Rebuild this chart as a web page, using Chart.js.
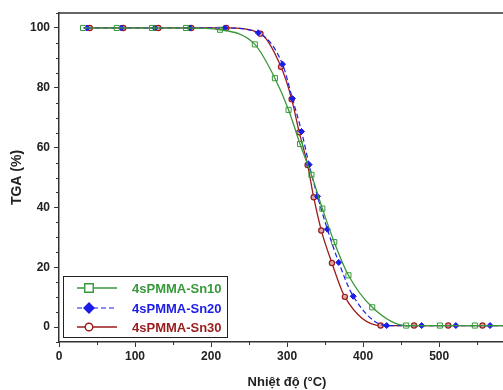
<!DOCTYPE html>
<html>
<head>
<meta charset="utf-8">
<script src="https://cdn.jsdelivr.net/npm/chart.js@4"></script>
<style>
  html, body { margin: 0; padding: 0; background: #fff; overflow: hidden; }
  #wrap { width: 503px; height: 390px; }
</style>
</head>
<body>
<div id="wrap"><canvas id="tga"></canvas></div>
<script>
// --- Data ---
const sn10Temp = [31.6, 76, 122.4, 167, 211.8, 257.6, 284, 302, 317, 332, 346.4, 362, 380.7, 412, 456.6, 501, 547, 584];
const sn10Mass = [100, 100, 100, 100, 99.4, 94.5, 83.2, 72.6, 61.2, 50.9, 39.6, 28.4, 17.3, 6.6, 0.5, 0.5, 0.5, 0.5];

const sn20Temp = [36.9, 82, 126, 172, 218, 262, 294, 307, 319, 329, 340, 353, 368, 387, 431, 477, 522, 567, 584];
const sn20Mass = [100, 100, 100, 100, 100, 98.4, 87.9, 76.4, 65.4, 54.3, 43.7, 32.7, 21.6, 10.3, 0.5, 0.5, 0.5, 0.5, 0.5];

const sn30Temp = [40.5, 84.6, 130.7, 174, 220, 265, 292, 306, 316, 327, 335, 345, 359, 376, 423, 467, 512, 557, 584];
const sn30Mass = [100, 100, 100, 100, 100, 98.1, 87, 76.2, 65.1, 54.2, 43.4, 32.3, 21.4, 10.1, 0.5, 0.5, 0.5, 0.5, 0.5];

const seriesNames = ["4sPMMA-Sn10", "4sPMMA-Sn20", "4sPMMA-Sn30"];
const xTickValues = [0, 100, 200, 300, 400, 500];
const yTickValues = [0, 20, 40, 60, 80, 100];
const xTitle = "Nhiệt độ (°C)";
const yTitle = "TGA (%)";

const FONT = "'Liberation Sans', Arial, sans-serif";
const AXIS_COLOR = "#333";

const toPoints = (xs, ys) => xs.map((x, i) => ({ x: x, y: ys[i] }));
// markers on every point except the last one (line runs on to the edge)
const radii = (xs, r) => xs.map((_, i) => (i === xs.length - 1 ? 0 : r));

const datasets = [
  {
    label: seriesNames[0],
    data: toPoints(sn10Temp, sn10Mass),
    borderColor: "#38993a",
    borderWidth: 1.3,
    pointStyle: "rect",
    pointRadius: radii(sn10Temp, 3.6),
    pointBorderWidth: 1,
    pointBackgroundColor: "rgba(255,255,255,0)",
    pointBorderColor: "#38993a",
    legendRadius: 6,
    legendFill: "#fff",
  },
  {
    label: seriesNames[1],
    data: toPoints(sn20Temp, sn20Mass),
    borderColor: "#1c1ce8",
    borderWidth: 1.2,
    borderDash: [5, 3],
    pointStyle: "rectRot",
    pointRadius: radii(sn20Temp, 3),
    pointBorderWidth: 1,
    pointBackgroundColor: "#1c1ce8",
    pointBorderColor: "#1c1ce8",
    legendRadius: 5,
    legendFill: "#1c1ce8",
  },
  {
    label: seriesNames[2],
    data: toPoints(sn30Temp, sn30Mass),
    borderColor: "#9a1c1c",
    borderWidth: 1.3,
    pointStyle: "circle",
    pointRadius: radii(sn30Temp, 2.6),
    pointBorderWidth: 1.2,
    pointBackgroundColor: "#dba8a8",
    pointBorderColor: "#9a1c1c",
    legendRadius: 3.8,
    legendFill: "#fff",
  },
];

// minor ticks, top frame line, x title and the inset legend
const framePlugin = {
  id: "frame",
  afterDraw(chart) {
    const { ctx, chartArea: area, scales } = chart;
    ctx.save();
    ctx.strokeStyle = AXIS_COLOR;

    // top frame
    ctx.lineWidth = 1.5;
    ctx.beginPath();
    ctx.moveTo(area.left, area.top);
    ctx.lineTo(area.right, area.top);
    ctx.stroke();

    // minor ticks
    ctx.lineWidth = 1;
    ctx.beginPath();
    for (let v = 50; v < scales.x.max; v += 100) {
      const px = Math.round(scales.x.getPixelForValue(v)) + 0.5;
      ctx.moveTo(px, area.bottom);
      ctx.lineTo(px, area.bottom + 3);
    }
    for (let v = -5; v <= 105; v += 5) {
      if (v % 20 === 0) continue;
      const py = Math.round(scales.y.getPixelForValue(v)) + 0.5;
      ctx.moveTo(area.left, py);
      ctx.lineTo(area.left - 3, py);
    }
    ctx.stroke();

    // x axis title
    ctx.fillStyle = "#222";
    ctx.font = "bold 13px " + FONT;
    ctx.textAlign = "center";
    ctx.textBaseline = "middle";
    ctx.fillText(xTitle, 287, 382);

    // legend box
    const box = { x: 63.5, y: 276.5, w: 164, h: 61 };
    ctx.fillStyle = "#fff";
    ctx.fillRect(box.x, box.y, box.w, box.h);
    ctx.strokeStyle = "#222";
    ctx.lineWidth = 1;
    ctx.strokeRect(box.x, box.y, box.w, box.h);

    const rows = [288, 308, 327];
    ctx.font = "bold 13px " + FONT;
    ctx.textAlign = "left";
    datasets.forEach((ds, i) => {
      const y = rows[i];
      ctx.strokeStyle = ds.borderColor;
      ctx.lineWidth = ds.borderWidth;
      ctx.setLineDash(ds.borderDash || []);
      ctx.beginPath();
      ctx.moveTo(77, y);
      ctx.lineTo(117, y);
      ctx.stroke();
      ctx.setLineDash([]);
      ctx.fillStyle = ds.legendFill;
      ctx.lineWidth = 1.4;
      Chart.helpers.drawPoint(ctx, { pointStyle: ds.pointStyle, radius: ds.legendRadius, rotation: 0, borderWidth: 1.4 }, 89, y);
      ctx.fillStyle = ds.borderColor;
      ctx.fillText(ds.label, 132, y + 1);
    });
    ctx.restore();
  },
};

const tickFont = { family: FONT, size: 12, weight: "bold" };

new Chart(document.getElementById("tga"), {
  type: "line",
  data: { datasets: datasets },
  options: {
    responsive: true,
    maintainAspectRatio: false,
    animation: false,
    layout: { autoPadding: false, padding: { top: 13, right: 0, bottom: 0, left: 0 } },
    elements: { line: { cubicInterpolationMode: "monotone" } },
    plugins: { legend: { display: false }, tooltip: { enabled: false } },
    scales: {
      x: {
        type: "linear",
        min: 0,
        max: 584,
        afterBuildTicks: (scale) => { scale.ticks = xTickValues.map((v) => ({ value: v })); },
        afterFit: (scale) => {
          scale.height = 48;
          scale.paddingLeft = 0;
          scale.paddingRight = 0;
        },
        ticks: { font: tickFont, color: "#222", padding: 2, maxRotation: 0 },
        grid: { drawOnChartArea: false, tickLength: 5, tickColor: AXIS_COLOR, tickWidth: 1 },
        border: { color: AXIS_COLOR, width: 1.5 },
      },
      y: {
        min: -5,
        max: 105,
        afterBuildTicks: (scale) => { scale.ticks = yTickValues.map((v) => ({ value: v })); },
        afterFit: (scale) => { scale.width = 59; },
        ticks: { font: tickFont, color: "#222", padding: 4 },
        grid: { drawOnChartArea: false, tickLength: 5, tickColor: AXIS_COLOR, tickWidth: 1 },
        border: { color: AXIS_COLOR, width: 1.5 },
        title: {
          display: true,
          text: yTitle,
          font: { family: FONT, size: 14, weight: "bold" },
          color: "#222",
          padding: { top: 9, bottom: 0 },
        },
      },
    },
  },
  plugins: [framePlugin],
});
</script>
</body>
</html>
